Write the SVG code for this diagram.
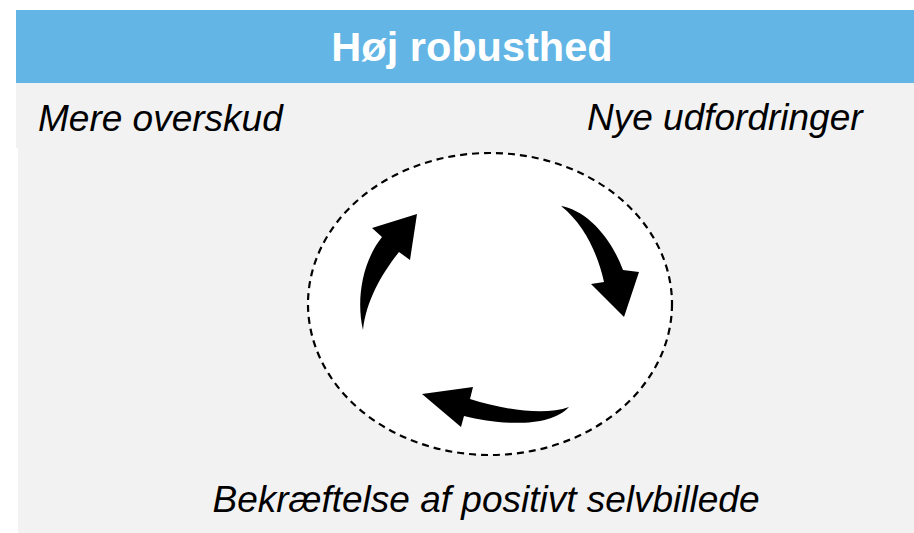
<svg xmlns="http://www.w3.org/2000/svg" width="914" height="533" viewBox="0 0 914 533">
<style>
.lbl{font-family:"Liberation Sans",Arial,sans-serif;font-style:italic;font-size:37px;fill:#000}
.title{font-family:"Liberation Sans",Arial,sans-serif;font-weight:bold;font-size:41.5px;fill:#fff}
.arrow{fill:#000;stroke:none}
</style>
<rect x="0" y="0" width="914" height="533" fill="#fff"/>
<g id="background">
<rect x="16" y="83" width="898" height="65" fill="#f2f2f2"/>
<rect x="18" y="147" width="896" height="386" fill="#f2f2f2"/>
</g>
<g id="header">
<rect x="16" y="10" width="898" height="73" fill="#62b5e5"/>
<text class="title" x="472" y="61" text-anchor="middle">Høj robusthed</text>
</g>
<g id="cycle">
<ellipse cx="490" cy="304" rx="182" ry="151" fill="#fff" stroke="#000" stroke-width="2.2" stroke-dasharray="7,5"/>
</g>
<g id="label-mere">
<text class="lbl" x="38" y="131">Mere overskud</text>
</g>
<g id="label-nye">
<text class="lbl" x="587" y="130">Nye udfordringer</text>
</g>
<g id="label-bekraeftelse">
<text class="lbl" x="486" y="512" text-anchor="middle">Bekræftelse af positivt selvbillede</text>
</g>
<g id="connectors">
<path class="arrow" d="M363,330 C356,300 362,262 382,237 L372,228 L417,214 L410,260 L399,252 C383,272 366,300 363,330 Z"/>
<path class="arrow" d="M561,206 C585,210 610,235 623,270 L639,272 L624,317 L591,284 L604,282 C598,255 585,225 561,206 Z"/>
<path class="arrow" d="M569,407 C545,416 505,410 470,399 L473,387 L422,394 L461,427 L464,416 C500,425 550,428 569,407 Z"/>
</g>
</svg>
